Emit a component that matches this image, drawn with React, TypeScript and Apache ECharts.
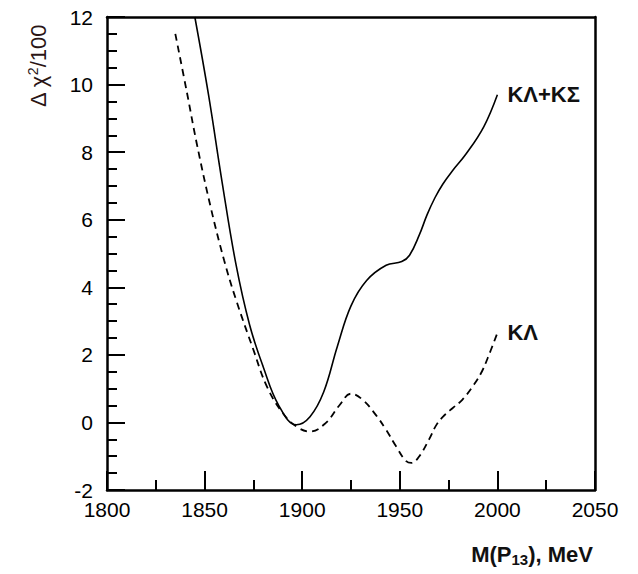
import React, { useEffect, useRef } from "react";
import * as echarts from "echarts";

const massKLKS = [1845, 1852, 1859, 1866, 1873, 1880, 1888, 1897, 1904, 1911, 1918, 1925, 1933, 1943, 1951, 1955, 1960, 1964, 1968, 1972, 1977, 1984, 1993, 2000];
const chiKLKS = [12, 9.7, 7.1, 4.7, 2.9, 1.65, 0.5, -0.07, 0.17, 0.9, 2.25, 3.45, 4.2, 4.65, 4.76, 4.95, 5.55, 6.15, 6.65, 7.05, 7.45, 7.95, 8.75, 9.7];

const massKL = [1835, 1841, 1846, 1853, 1860, 1866, 1875, 1882, 1890, 1897, 1904, 1912, 1919, 1925, 1931, 1938, 1943, 1948, 1953, 1956, 1960, 1965, 1969, 1973, 1977, 1982, 1988, 1992, 1995, 2000];
const chiKL = [11.5, 9.75, 8.25, 6.4, 4.8, 3.65, 2.15, 1.05, 0.28, -0.12, -0.27, -0.02, 0.5, 0.85, 0.67, 0.2, -0.22, -0.7, -1.13, -1.2, -1.0, -0.5, -0.05, 0.22, 0.42, 0.67, 1.12, 1.5, 1.9, 2.65];

const seriesNames = ["KΛ+KΣ", "KΛ"];

const FONT = "'Liberation Sans', Arial, sans-serif";

export default function App() {
  const ref = useRef<HTMLDivElement>(null);
  useEffect(() => {
    if (!ref.current) return;
    const chart = echarts.init(ref.current, null, { renderer: "svg" });
    const pair = (xs: number[], ys: number[]) => xs.map((x, i) => [x, ys[i]]);
    const frameAxis = {
      show: true,
      axisLine: { show: true, onZero: false, lineStyle: { color: "#000", width: 2.5 } },
      axisTick: { show: false },
      axisLabel: { show: false },
      splitLine: { show: false },
    };
    const endLabel = (text: string) => ({
      show: true,
      formatter: text,
      distance: 10,
      fontSize: 22,
      fontWeight: "bold",
      color: "#111",
      fontFamily: FONT,
    });
    chart.setOption({
      animation: false,
      backgroundColor: "#fff",
      textStyle: { fontFamily: FONT },
      grid: {
        left: 107,
        right: 43,
        top: 17,
        bottom: 84,
        outerBoundsMode: "none",
        containLabel: false,
      },
      xAxis: [
        {
          type: "value",
          min: 1800,
          max: 2050,
          interval: 50,
          splitLine: { show: false },
          axisLine: { onZero: false, lineStyle: { color: "#000", width: 2.5 } },
          axisTick: { inside: true, length: 19, lineStyle: { color: "#000", width: 2 } },
          minorTick: { show: true, splitNumber: 2, length: 10, lineStyle: { color: "#000", width: 2 } },
          minorSplitLine: { show: false },
          axisLabel: {
            fontSize: 21,
            color: "#000",
            margin: 9,
            fontFamily: FONT,
            showMinLabel: true,
            showMaxLabel: true,
            formatter: (v: number) => String(v),
          },
          name: "{a|M(P}{s|13}{a|), MeV}",
          nameLocation: "end",
          nameGap: 0,
          nameTextStyle: {
            align: "right",
            verticalAlign: "top",
            padding: [52, 2, 0, 0],
            rich: {
              a: { fontSize: 22, fontWeight: "bold", color: "#111", fontFamily: FONT },
              s: { fontSize: 15, fontWeight: "bold", color: "#111", fontFamily: FONT, verticalAlign: "bottom", padding: [10, 0, 0, 0] },
            },
          },
        },
        { ...frameAxis, type: "value", position: "top", min: 1800, max: 2050 },
      ],
      yAxis: [
        {
          type: "value",
          min: -2,
          max: 12,
          interval: 2,
          splitLine: { show: false },
          axisLine: { onZero: false, lineStyle: { color: "#000", width: 2.5 } },
          axisTick: { inside: true, length: 18, lineStyle: { color: "#000", width: 2 } },
          minorTick: { show: true, splitNumber: 4, length: 10, lineStyle: { color: "#000", width: 2 } },
          minorSplitLine: { show: false },
          axisLabel: {
            fontSize: 21,
            color: "#000",
            margin: 14,
            fontFamily: FONT,
            formatter: (v: number) => String(v),
          },
        },
        { ...frameAxis, type: "value", position: "right", min: -2, max: 12 },
      ],
      graphic: [
        {
          type: "text",
          x: 38,
          y: 66,
          rotation: Math.PI / 2,
          style: {
            text: "{a|Δ χ}{s|2}{a|/100}",
            fontSize: 22,
            fontFamily: FONT,
            fill: "#2a1515",
            align: "center",
            verticalAlign: "middle",
            rich: {
              a: { fontSize: 22, fill: "#2a1515", fontFamily: FONT },
              s: { fontSize: 14, fill: "#2a1515", fontFamily: FONT, verticalAlign: "top", padding: [0, 0, 10, 0] },
            },
          },
        },
      ],
      series: [
        {
          name: seriesNames[0],
          type: "line",
          data: pair(massKLKS, chiKLKS),
          smooth: 0.4,
          showSymbol: false,
          clip: true,
          lineStyle: { color: "#000", width: 1.6 },
          endLabel: endLabel(seriesNames[0]),
        },
        {
          name: seriesNames[1],
          type: "line",
          data: pair(massKL, chiKL),
          smooth: 0.4,
          showSymbol: false,
          clip: true,
          lineStyle: { color: "#000", width: 1.8, type: [7, 5] },
          endLabel: endLabel(seriesNames[1]),
        },
      ],
    });
    return () => chart.dispose();
  }, []);
  return <div ref={ref} style={{ position: "fixed", left: 0, top: 0, width: 638, height: 574 }} />;
}
